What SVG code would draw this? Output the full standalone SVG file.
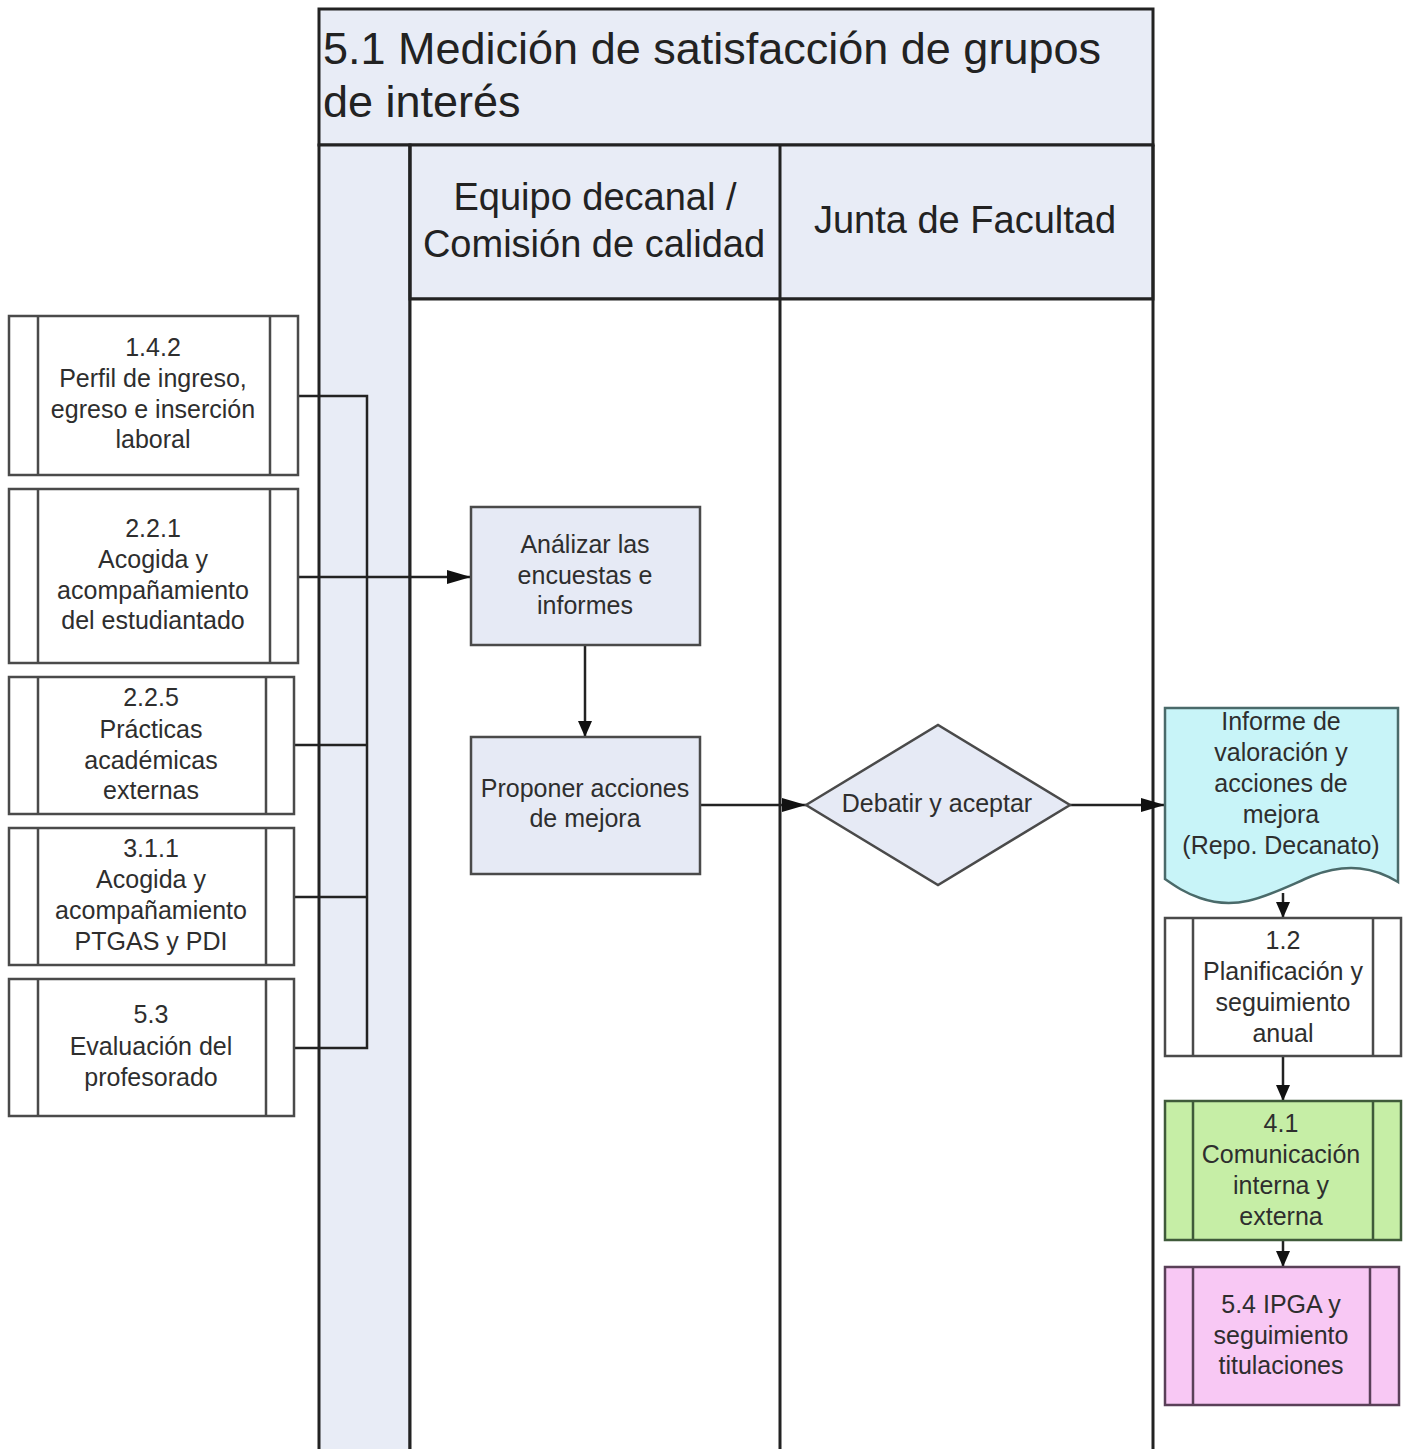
<svg xmlns="http://www.w3.org/2000/svg" width="1410" height="1449" viewBox="0 0 1410 1449">
<style>
  .lbl{font-family:"Liberation Sans",Arial,sans-serif;font-size:25px;fill:#2e2e2e;text-anchor:middle}
  .hdr{font-family:"Liberation Sans",Arial,sans-serif;font-size:38px;fill:#222;text-anchor:middle}
  .ttl{font-family:"Liberation Sans",Arial,sans-serif;font-size:45px;fill:#222}
  .pool{fill:#e8ecf6;stroke:#222;stroke-width:3}
  .lane{stroke:#222;stroke-width:3;fill:none}
  .sub{fill:#fff;stroke:#4a4a4a;stroke-width:2.5}
  .act{fill:#e6eaf5;stroke:#4a4a4a;stroke-width:2.5}
  .conn{stroke:#222;stroke-width:2.5;fill:none}
</style>
<defs>
  <marker id="arrL" markerUnits="userSpaceOnUse" viewBox="0 0 24 14" refX="24" refY="7" markerWidth="24" markerHeight="14" orient="auto">
    <path d="M0,0 L24,7 L0,14 z" fill="#111"/>
  </marker>
  <marker id="arrS" markerUnits="userSpaceOnUse" viewBox="0 0 16 16" refX="16" refY="8" markerWidth="16" markerHeight="16" orient="auto">
    <path d="M0,1 L16,8 L0,15 z" fill="#111"/>
  </marker>
</defs>
<rect width="1410" height="1449" fill="#fff"/>

<g id="pool">
  <rect x="319" y="9" width="834" height="136" class="pool"/>
  <rect x="319" y="145" width="91" height="1310" class="pool"/>
  <rect x="410" y="145" width="743" height="154" class="pool"/>
  <rect x="410" y="299" width="743" height="1156" fill="#fff"/>
  <path class="lane" d="M410,145 V1449 M780,145 V1449 M1153,145 V1449 M410,299 H1153"/>
  <text class="ttl" x="323" y="64">5.1 Medición de satisfacción de grupos</text>
  <text class="ttl" x="323" y="117">de interés</text>
  <text class="hdr" x="595" y="210">Equipo decanal /</text>
  <text class="hdr" x="594" y="257">Comisión de calidad</text>
  <text class="hdr" x="965" y="233">Junta de Facultad</text>
</g>

<g id="connectors">
  <path class="conn" d="M298,396 H367 V1048 H294 M294,745 H367 M294,897 H367"/>
  <path class="conn" d="M298,577 H471" marker-end="url(#arrL)"/>
  <path class="conn" d="M585,645 V737" marker-end="url(#arrS)"/>
  <path class="conn" d="M700,805 H806" marker-end="url(#arrL)"/>
  <path class="conn" d="M1070,805 H1165" marker-end="url(#arrL)"/>
  <path class="conn" d="M1283,893 V918" marker-end="url(#arrS)"/>
  <path class="conn" d="M1283,1056 V1101" marker-end="url(#arrS)"/>
  <path class="conn" d="M1283,1240 V1267" marker-end="url(#arrS)"/>
</g>

<g id="n142">
  <rect x="9" y="316" width="289" height="159" class="sub"/>
  <path class="sub" d="M38,316 V475 M270,316 V475"/>
  <text class="lbl" x="153" y="356">1.4.2</text>
  <text class="lbl" x="153" y="387">Perfil de ingreso,</text>
  <text class="lbl" x="153" y="418">egreso e inserción</text>
  <text class="lbl" x="153" y="448">laboral</text>
</g>
<g id="n221">
  <rect x="9" y="489" width="289" height="174" class="sub"/>
  <path class="sub" d="M38,489 V663 M270,489 V663"/>
  <text class="lbl" x="153" y="537">2.2.1</text>
  <text class="lbl" x="153" y="568">Acogida y</text>
  <text class="lbl" x="153" y="599">acompañamiento</text>
  <text class="lbl" x="153" y="629">del estudiantado</text>
</g>
<g id="n225">
  <rect x="9" y="677" width="285" height="137" class="sub"/>
  <path class="sub" d="M38,677 V814 M266,677 V814"/>
  <text class="lbl" x="151" y="706">2.2.5</text>
  <text class="lbl" x="151" y="738">Prácticas</text>
  <text class="lbl" x="151" y="769">académicas</text>
  <text class="lbl" x="151" y="799">externas</text>
</g>
<g id="n311">
  <rect x="9" y="828" width="285" height="137" class="sub"/>
  <path class="sub" d="M38,828 V965 M266,828 V965"/>
  <text class="lbl" x="151" y="857">3.1.1</text>
  <text class="lbl" x="151" y="888">Acogida y</text>
  <text class="lbl" x="151" y="919">acompañamiento</text>
  <text class="lbl" x="151" y="950">PTGAS y PDI</text>
</g>
<g id="n53">
  <rect x="9" y="979" width="285" height="137" class="sub"/>
  <path class="sub" d="M38,979 V1116 M266,979 V1116"/>
  <text class="lbl" x="151" y="1023">5.3</text>
  <text class="lbl" x="151" y="1055">Evaluación del</text>
  <text class="lbl" x="151" y="1086">profesorado</text>
</g>

<g id="analizar">
  <rect x="471" y="507" width="229" height="138" class="act"/>
  <text class="lbl" x="585" y="553">Análizar las</text>
  <text class="lbl" x="585" y="584">encuestas e</text>
  <text class="lbl" x="585" y="614">informes</text>
</g>
<g id="proponer">
  <rect x="471" y="737" width="229" height="137" class="act"/>
  <text class="lbl" x="585" y="797">Proponer acciones</text>
  <text class="lbl" x="585" y="827">de mejora</text>
</g>
<g id="debatir">
  <path class="act" d="M806,805 L938,725 L1070,805 L938,885 Z"/>
  <text class="lbl" x="937" y="812">Debatir y aceptar</text>
</g>

<g id="informe">
  <path d="M1165,708 H1398 V882 C1375,868 1348,862 1312,876 C1270,894 1240,912 1200,898 C1185,893 1175,886 1165,879 Z" fill="#c8f4f8" stroke="#4a6a6a" stroke-width="2.5"/>
  <text class="lbl" x="1281" y="730">Informe de</text>
  <text class="lbl" x="1281" y="761">valoración y</text>
  <text class="lbl" x="1281" y="792">acciones de</text>
  <text class="lbl" x="1281" y="823">mejora</text>
  <text class="lbl" x="1281" y="854">(Repo. Decanato)</text>
</g>
<g id="n12">
  <rect x="1165" y="918" width="236" height="138" class="sub"/>
  <path class="sub" d="M1193,918 V1056 M1373,918 V1056"/>
  <text class="lbl" x="1283" y="949">1.2</text>
  <text class="lbl" x="1283" y="980">Planificación y</text>
  <text class="lbl" x="1283" y="1011">seguimiento</text>
  <text class="lbl" x="1283" y="1042">anual</text>
</g>
<g id="n41">
  <rect x="1165" y="1101" width="236" height="139" fill="#c6eea6" stroke="#3f5a3a" stroke-width="2.5"/>
  <path d="M1193,1101 V1240 M1373,1101 V1240" stroke="#3f5a3a" stroke-width="2.5"/>
  <text class="lbl" x="1281" y="1132">4.1</text>
  <text class="lbl" x="1281" y="1163">Comunicación</text>
  <text class="lbl" x="1281" y="1194">interna y</text>
  <text class="lbl" x="1281" y="1225">externa</text>
</g>
<g id="n54">
  <rect x="1165" y="1267" width="234" height="138" fill="#f8c8f4" stroke="#5a4058" stroke-width="2.5"/>
  <path d="M1193,1267 V1405 M1370,1267 V1405" stroke="#5a4058" stroke-width="2.5"/>
  <text class="lbl" x="1281" y="1313">5.4 IPGA y</text>
  <text class="lbl" x="1281" y="1344">seguimiento</text>
  <text class="lbl" x="1281" y="1374">titulaciones</text>
</g>
</svg>
